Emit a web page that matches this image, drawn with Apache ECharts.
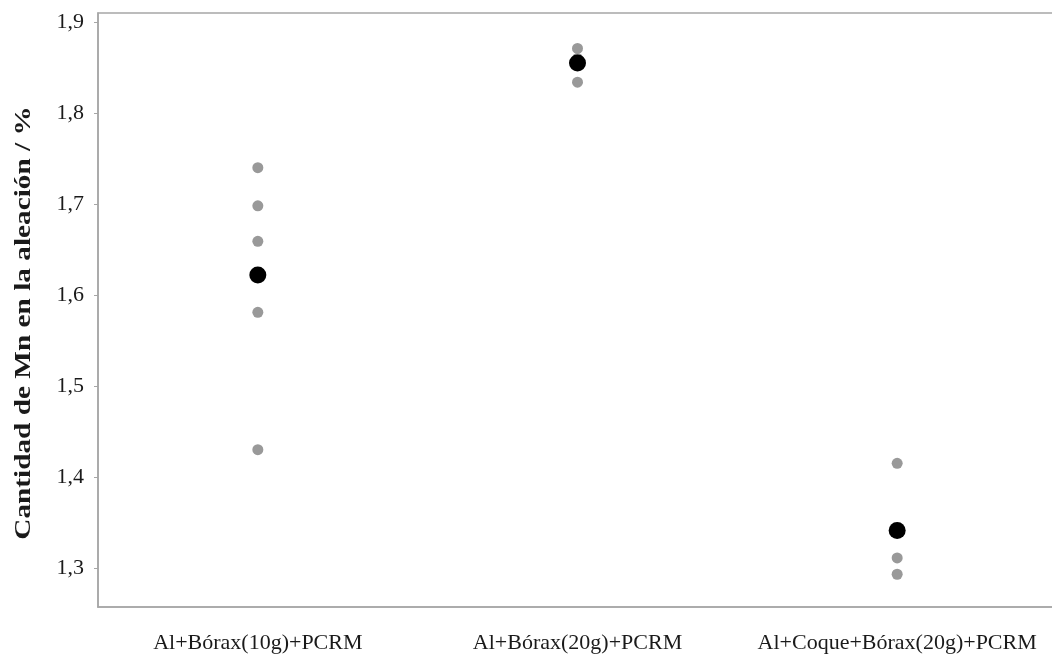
<!DOCTYPE html>
<html>
<head>
<meta charset="utf-8">
<script src="https://cdn.jsdelivr.net/npm/echarts@6/dist/echarts.min.js"></script>
<style>
  html, body { margin: 0; padding: 0; background: #fff; }
  #chart { width: 1052px; height: 661px; }
</style>
</head>
<body>
<div id="chart"></div>
<script>
// Categories (x axis)
const categories = ['Al+Bórax(10g)+PCRM', 'Al+Bórax(20g)+PCRM', 'Al+Coque+Bórax(20g)+PCRM'];
// Individual measurements per category (gray points)
const obsBorax10 = [1.740, 1.698, 1.659, 1.581, 1.430];
const obsBorax20 = [1.871, 1.860, 1.834];
const obsCoque20 = [1.415, 1.311, 1.293];
// Means per category (black points)
const means = [1.622, 1.855, 1.341];
// Y axis range
const yMin = 1.257, yMax = 1.91;
const yAxisTitle = 'Cantidad de Mn en la aleación / %';

const obsGroups = [obsBorax10, obsBorax20, obsCoque20];
const obsData = [];
obsGroups.forEach((g, i) => g.forEach(v => obsData.push([categories[i], v])));
const meanData = means.map((v, i) => [categories[i], v]);

const chart = echarts.init(document.getElementById('chart'));
const font = '"Liberation Serif", "Times New Roman", serif';
chart.setOption({
  animation: false,
  backgroundColor: '#ffffff',
  grid: {
    left: 98, width: 959, top: 13, bottom: 54,
    outerBoundsMode: 'none',
    containLabel: false,
    show: true, borderColor: '#a6a6a6', borderWidth: 1.5, backgroundColor: 'transparent'
  },
  graphic: [{
    type: 'text',
    x: 24, y: 323,
    rotation: Math.PI / 2,
    scaleX: 1.22,
    style: {
      text: yAxisTitle,
      fill: '#1a1a1a',
      font: 'bold 24px "Liberation Serif", "Times New Roman", serif',
      align: 'center',
      verticalAlign: 'middle'
    }
  }],
  xAxis: {
    type: 'category',
    data: categories,
    boundaryGap: true,
    axisLine: { lineStyle: { color: '#a6a6a6', width: 1.5 } },
    axisTick: { alignWithLabel: true, length: 4, lineStyle: { color: '#a6a6a6' } },
    axisLabel: { interval: 0, hideOverlap: false, color: '#1a1a1a', fontFamily: font, fontSize: 22, margin: 25 },
    splitLine: { show: false }
  },
  yAxis: {
    type: 'value',
    min: yMin, max: yMax,
    splitNumber: 6,
    axisLine: { show: true, lineStyle: { color: '#a6a6a6', width: 1.5 } },
    axisTick: { show: true, length: 4, lineStyle: { color: '#a6a6a6' } },
    axisLabel: {
      color: '#1a1a1a', fontFamily: font, fontSize: 22, margin: 14,
      showMinLabel: false, showMaxLabel: false,
      formatter: v => v.toFixed(1).replace('.', ',')
    },
    splitLine: { show: false }
  },
  series: [
    {
      type: 'scatter',
      data: obsData,
      symbol: 'circle',
      symbolSize: 11,
      itemStyle: { color: '#999999', opacity: 1 },
      z: 2
    },
    {
      type: 'scatter',
      data: meanData,
      symbol: 'circle',
      symbolSize: 17,
      itemStyle: { color: '#000000', opacity: 1 },
      z: 3
    }
  ]
});
</script>
</body>
</html>
